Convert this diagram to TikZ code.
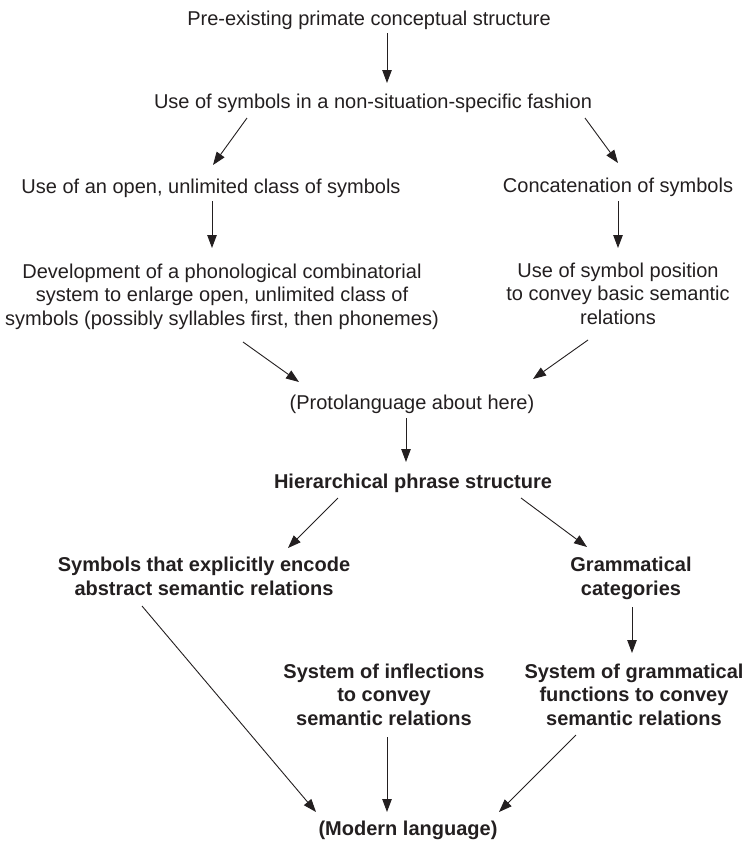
\documentclass[tikz,border=0pt]{standalone}
\usepackage{fontspec}
\setmainfont{Liberation Sans}
\usetikzlibrary{arrows.meta}
\definecolor{ink}{RGB}{35,31,32}
\begin{document}
\begin{tikzpicture}[x=1pt,y=-1pt,
  every node/.style={inner sep=0pt,anchor=base,align=center,text=ink,
    font=\fontsize{20}{23.4}\selectfont},
  strong/.style={font=\fontsize{20}{23.4}\selectfont\bfseries},
  arr/.style={draw=ink,line width=0.9pt,-{Triangle[length=13pt,width=9.5pt]}}]
\useasboundingbox (0,0) rectangle (745,841);

% stages (multi-line nodes sit on the baseline of their last line)
\node (pre)    at (369,25)  {Pre-existing primate conceptual structure};
\node (sym)    at (373,108) {Use of symbols in a non-situation-specific fashion};
\node (open)   at (211,193) {Use of an open, unlimited class of symbols};
\node (conc)   at (618,192) {Concatenation of symbols};
\node (dev)    at (222,325) {Development of a phonological combinatorial\\system to enlarge open, unlimited class of\\symbols (possibly syllables first, then phonemes)};
\node (pos)    at (618,324) {Use of symbol position\\to convey basic semantic\\relations};
\node (proto)  at (412,409) {(Protolanguage about here)};
\node[strong] (hier)   at (413,488) {Hierarchical phrase structure};
\node[strong] (expl)   at (204,595) {Symbols that explicitly encode\\abstract semantic relations};
\node[strong] (gram)   at (631,595) {Grammatical\\categories};
\node[strong] (infl)   at (384,725) {System of inflections\\to convey\\semantic relations};
\node[strong] (gfun)   at (634,725) {System of grammatical\\functions to convey\\semantic relations};
\node[strong] (modern) at (408,835) {(Modern language)};

% transitions
\draw[arr] ([shift={(18,8)}]pre.base)    -- ([shift={(14,-25)}]sym.base);
\draw[arr] ([shift={(-126,10)}]sym.base) -- ([shift={(2,-28)}]open.base);
\draw[arr] ([shift={(212,10)}]sym.base)  -- ([shift={(0,-29)}]conc.base);
\draw[arr] ([shift={(1,8)}]open.base)    -- ([shift={(-10,-77)}]dev.base);
\draw[arr] ([shift={(0,9)}]conc.base)    -- ([shift={(0,-76)}]pos.base);
\draw[arr] ([shift={(21,17)}]dev.base)   -- ([shift={(-113,-27)}]proto.base);
\draw[arr] ([shift={(-30,16)}]pos.base)  -- ([shift={(121,-30)}]proto.base);
\draw[arr] ([shift={(-6,9)}]proto.base)  -- ([shift={(-7,-26)}]hier.base);
\draw[arr] ([shift={(-75,10)}]hier.base) -- ([shift={(84,-47)}]expl.base);
\draw[arr] ([shift={(108,10)}]hier.base) -- ([shift={(-44,-48)}]gram.base);
\draw[arr] ([shift={(1,12)}]gram.base)   -- ([shift={(-2,-72)}]gfun.base);
\draw[arr] ([shift={(-62,11)}]expl.base) -- ([shift={(-92,-23)}]modern.base);
\draw[arr] ([shift={(3,12)}]infl.base)   -- ([shift={(-21,-23)}]modern.base);
\draw[arr] ([shift={(-58,10)}]gfun.base) -- ([shift={(91,-23)}]modern.base);
\end{tikzpicture}
\end{document}
